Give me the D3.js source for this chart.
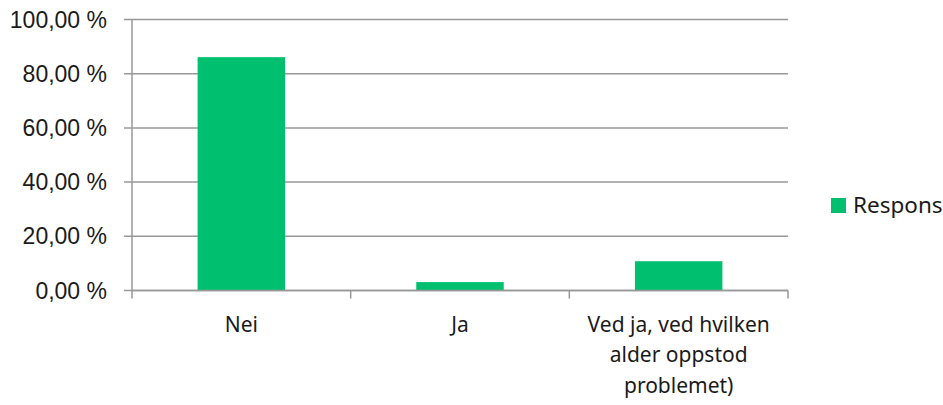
<!DOCTYPE html>
<html>
<head>
<meta charset="utf-8">
<script src="https://cdn.jsdelivr.net/npm/d3@7"></script>
<style>
  body { margin: 0; background: #fff; }
  svg { display: block; }
</style>
</head>
<body>
<script>
// data
var categories = ["Nei", "Ja", "Ved ja, ved hvilken alder oppstod problemet)"];
var categoryLines = [["Nei"], ["Ja"], ["Ved ja, ved hvilken", "alder oppstod", "problemet)"]];
var values = [86.1, 3.1, 10.8];
var yTicks = [0, 20, 40, 60, 80, 100];
var seriesName = "Respons";

var W = 943, H = 405;
var margin = { top: 19.5, left: 132, right: 155, bottom: 114.5 },
    width = 788 - margin.left,
    height = 290.5 - margin.top;

var barColor = "#00bf6f", gridColor = "#999999";

var svg = d3.select("body").append("svg")
    .attr("width", W)
    .attr("height", H);

var g = svg.append("g")
    .attr("transform", "translate(" + margin.left + "," + margin.top + ")");

var x = d3.scaleBand().domain(categories).range([0, width]).padding(0);
var y = d3.scaleLinear().domain([0, 100]).range([height, 0]);

// gridlines
g.selectAll("line.grid").data(yTicks).enter().append("line")
    .attr("class", "grid")
    .attr("x1", -8).attr("x2", width)
    .attr("y1", function (d) { return y(d); })
    .attr("y2", function (d) { return y(d); })
    .attr("stroke", gridColor).attr("stroke-width", 1.5);

// y axis labels
g.selectAll("text.ylab").data(yTicks).enter().append("text")
    .attr("class", "ylab")
    .attr("x", -25)
    .attr("y", function (d) { return y(d); })
    .attr("dy", "0.35em")
    .attr("text-anchor", "end")
    .style("font-family", "'Liberation Sans', Arial, sans-serif")
    .style("font-size", "23px")
    .style("fill", "#1a1a1a")
    .text(function (d) { return d3.format(".2f")(d).replace(".", ",") + " %"; });

// bars
var barW = x.bandwidth() * 0.4;
g.selectAll("rect.bar").data(values).enter().append("rect")
    .attr("class", "bar")
    .attr("x", function (d, i) { return x(categories[i]) + x.bandwidth() / 2 - barW / 2; })
    .attr("y", function (d) { return y(d); })
    .attr("width", barW)
    .attr("height", function (d) { return height - y(d); })
    .attr("fill", barColor);

// y axis line
g.append("line")
    .attr("x1", 0).attr("x2", 0)
    .attr("y1", 0).attr("y2", height + 8)
    .attr("stroke", gridColor).attr("stroke-width", 1.5);

// x axis line + ticks
g.append("line")
    .attr("x1", 0).attr("x2", width)
    .attr("y1", height).attr("y2", height)
    .attr("stroke", gridColor).attr("stroke-width", 1.5);
var xt = categories.map(function (c) { return x(c) + x.bandwidth(); });
g.selectAll("line.xtick").data(xt).enter().append("line")
    .attr("class", "xtick")
    .attr("x1", function (d) { return d; }).attr("x2", function (d) { return d; })
    .attr("y1", height).attr("y2", height + 8)
    .attr("stroke", gridColor).attr("stroke-width", 1.5);

// category labels
var cat = g.selectAll("text.xlab").data(categoryLines).enter().append("text")
    .attr("class", "xlab")
    .attr("text-anchor", "middle")
    .style("font-family", "'Noto Sans', sans-serif")
    .style("font-size", "21px")
    .style("fill", "#1a1a1a")
    .attr("transform", function (d, i) {
        return "translate(" + (x(categories[i]) + x.bandwidth() / 2) + "," + (331.5 - margin.top) + ")";
    });
cat.selectAll("tspan").data(function (d) { return d; }).enter().append("tspan")
    .attr("x", 0)
    .attr("y", function (d, i) { return i * 30.5; })
    .text(function (d) { return d; });

// legend
var leg = svg.append("g").attr("transform", "translate(831,198)");
leg.append("rect").attr("width", 15).attr("height", 15).attr("fill", barColor);
leg.append("text")
    .attr("x", 22).attr("y", 14.5)
    .style("font-family", "'Noto Sans', sans-serif")
    .style("font-size", "22.5px")
    .style("fill", "#1a1a1a")
    .text(seriesName);
</script>
</body>
</html>
